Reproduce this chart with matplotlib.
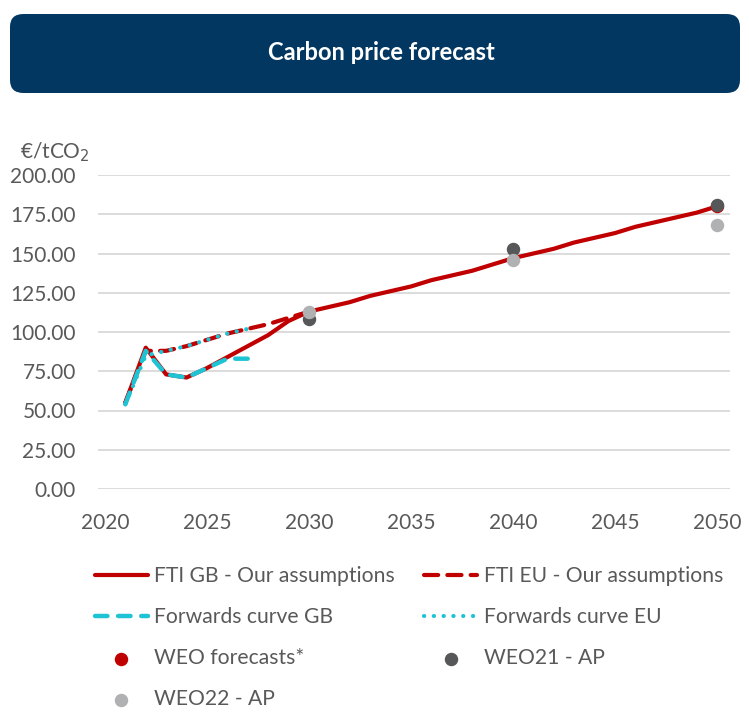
import matplotlib.pyplot as plt
from matplotlib.patches import FancyBboxPatch

plt.rcParams['font.family'] = ['Lato', 'DejaVu Sans']

# FTI GB - our assumptions (solid red)
gb_years = list(range(2021, 2051))
gb_vals = [55, 90, 73, 71, 77, 84, 91, 98, 107, 113,
           116, 119, 123, 126, 129, 133, 136, 139, 143, 147,
           150, 153, 157, 160, 163, 167, 170, 173, 176, 180]

# FTI EU - our assumptions (dashed red)
eu_years = list(range(2021, 2031))
eu_vals = [55, 88, 88, 91, 95, 99, 102, 105, 109, 113]

# forwards curves
fwd_gb_years = [2021, 2022, 2023, 2024, 2025, 2026, 2027]
fwd_gb_vals = [54, 88, 73, 71, 77, 83, 83]
fwd_eu_years = [2021, 2022, 2023, 2024, 2025, 2026, 2027]
fwd_eu_vals = [54, 85, 88, 91, 95, 99, 102]

# WEO points
weo_years = [2050]
weo_vals = [180]
weo21_years = [2030, 2040, 2050]
weo21_vals = [108, 153, 181]
weo22_years = [2030, 2040, 2050]
weo22_vals = [113, 146, 168]

RED = '#C00000'
CYAN = '#1EC4D4'
DARK = '#555759'
LIGHT = '#AFB1B3'
TXT = '#595959'

fig = plt.figure(figsize=(7.49, 7.13), dpi=100)
W, H = 749, 713

# title banner
banner = FancyBboxPatch((10 / W, (H - 93) / H), 730 / W, 79 / H,
                        boxstyle='round,pad=0,rounding_size=0.018',
                        transform=fig.transFigure, facecolor='#023761',
                        edgecolor='none')
fig.patches.append(banner)
fig.text(381 / W, (H - 53) / H, 'Carbon price forecast', color='white',
         fontsize=17, fontweight='bold', ha='center', va='center')

ax = fig.add_axes([98 / W, (H - 489) / H, 632 / W, 314 / H])
ax.set_xlim(2019.66, 2050.64)
ax.set_ylim(0, 200)
ax.set_yticks(range(0, 201, 25))
ax.set_yticklabels(['%.2f' % v for v in range(0, 201, 25)])
ax.set_xticks(range(2020, 2051, 5))
ax.grid(axis='y', color='#D9D9D9', linewidth=1.3)
ax.set_axisbelow(True)
for s in ax.spines.values():
    s.set_visible(False)
ax.tick_params(length=0, labelsize=15, labelcolor=TXT)
ax.tick_params(axis='y', pad=16)
ax.tick_params(axis='x', pad=17)

l1, = ax.plot(gb_years, gb_vals, color=RED, lw=3, solid_capstyle='round',
              label='FTI GB - Our assumptions')
l2, = ax.plot(eu_years, eu_vals, color=RED, lw=3, dashes=(3.4, 2.2),
              dash_capstyle='round', label='FTI EU - Our assumptions')
l3, = ax.plot(fwd_gb_years, fwd_gb_vals, color=CYAN, lw=3.2,
              dashes=(2.8, 2.4), dash_capstyle='round', label='Forwards curve GB')
l4, = ax.plot(fwd_eu_years, fwd_eu_vals, color=CYAN, lw=3.0,
              dashes=(0.05, 2.3), dash_capstyle='round', label='Forwards curve EU')
p1 = ax.scatter(weo_years, weo_vals, s=75, color=RED, zorder=4,
                label='WEO forecasts*')
p2 = ax.scatter(weo21_years, weo21_vals, s=75, color=DARK, zorder=5,
                label='WEO21 - AP')
p3 = ax.scatter(weo22_years, weo22_vals, s=75, color=LIGHT, zorder=6,
                label='WEO22 - AP')

fig.text(20 / W, (H - 152) / H, '€/tCO$_2$', fontsize=15, color=TXT,
         ha='left', va='center')

handles = [l1, l3, p1, p3, l2, l4, p2]
leg = fig.legend(handles, [h.get_label() for h in handles], ncol=2,
                 loc='upper left', bbox_to_anchor=(76 / W, (H - 547) / H),
                 frameon=False, fontsize=15.2, handlelength=2.5,
                 handletextpad=0.3, columnspacing=1.4, labelspacing=1.0,
                 labelcolor=TXT, scatterpoints=1)

fig.savefig('out.png', dpi=100)
